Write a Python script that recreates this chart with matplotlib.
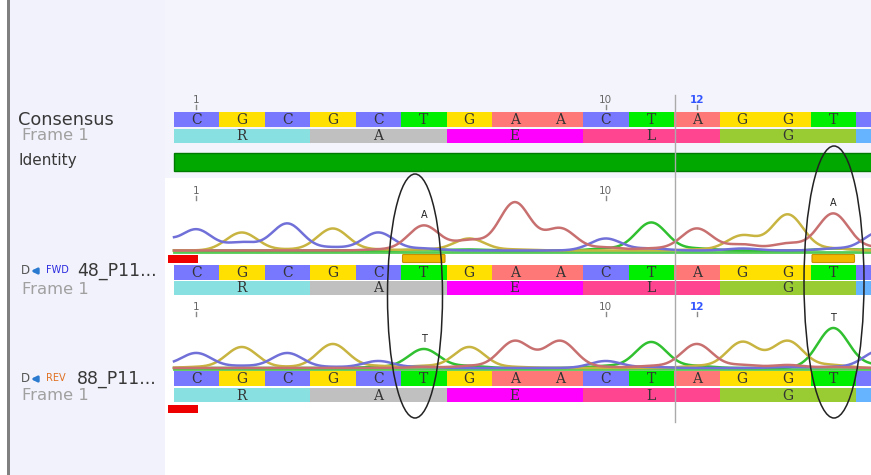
import numpy as np
import matplotlib.pyplot as plt
from matplotlib.patches import Ellipse, Rectangle, FancyBboxPatch

# Secuencia consenso y traduccion (marco 1)
bases = list("CGCGCTGAACTAGGTC")
aa_labels = ['R', 'A', 'E', 'L', 'G', '']
aa_colors = ['#88e0e0', '#c0c0c0', '#ff00ff', '#ff4590', '#99cc33', '#66b3ff']

base_colors = {'C': '#7878ff', 'G': '#ffe000', 'T': '#00ee00', 'A': '#ff7878'}
trace_colors = {'A': '#c87070', 'C': '#7070d8', 'G': '#c8b440', 'T': '#30c030'}

# Alturas de los picos (px) por posicion; el indice 0 es la posicion previa a la base 1
fwd_A = [0, 0, 0, 0, 0, 1, 25, 10, 48, 22, 3, 2, 22, 6, 7, 37, 3]
fwd_C = [18, 21, 8, 27, 3, 18, 2, 0, 0, 0, 12, 2, 0, 2, 0, 2, 18]
fwd_G = [0, 0, 18, 1, 22, 1, 1, 12, 1, 0, 0, 0, 1, 15, 36, 2, 0]
fwd_T = [0, 0, 0, 0, 0, 0, 1, 1, 0, 0, 2, 28, 2, 0, 0, 2, 1]

rev_A = [0, 0, 0, 0, 0, 0, 1, 2, 27, 27, 1, 2, 24, 3, 3, 1, 0]
rev_C = [4, 15, 2, 15, 1, 7, 1, 0, 0, 0, 7, 1, 0, 0, 1, 1, 17]
rev_G = [0, 1, 21, 1, 24, 2, 2, 21, 1, 0, 0, 0, 2, 26, 27, 3, 0]
rev_T = [0, 0, 0, 0, 0, 1, 19, 2, 0, 0, 2, 26, 2, 0, 0, 40, 3]

# Llamadas de base sobre los picos ambiguos: (columna, letra)
fwd_calls = [(6, 'A'), (15, 'A')]
rev_calls = [(6, 'T'), (15, 'T')]

# Geometria de la vista
x0 = 173.5
w = 45.5
right = 871
centers = x0 + w * (np.arange(len(bases)) + 0.5)
pos = x0 + w * (np.arange(len(bases) + 1) - 0.5)
seq_font = ['DejaVu Serif']

fig = plt.figure(figsize=(8.71, 4.75), dpi=100)
ax = fig.add_axes([0, 0, 1, 1])
ax.set_xlim(0, right)
ax.set_ylim(475, 0)
ax.axis('off')

# Fondos
ax.add_patch(Rectangle((0, 0), right, 475, facecolor='white', edgecolor='none'))
ax.add_patch(Rectangle((165, 0), 706, 178, facecolor='#f4f4fc', edgecolor='none'))
ax.add_patch(Rectangle((10, 0), 155, 475, facecolor='#f2f2fc', edgecolor='none'))
ax.add_patch(Rectangle((7, 0), 3, 475, facecolor='#808080', edgecolor='none'))


def base_row(y, h):
    cols = [base_colors[b] for b in bases]
    ax.bar(centers, h, bottom=y, width=w, color=cols, linewidth=0)
    for xc, b in zip(centers, bases):
        if xc > right - 10:
            continue
        ax.text(xc, y + h / 2 + 0.5, b, fontsize=10, family=seq_font,
                ha='center', va='center', color='#333333')


def frame_row(y, h):
    for k, (lab, col) in enumerate(zip(aa_labels, aa_colors)):
        ax.bar(x0 + w * (3 * k + 1.5), h, bottom=y, width=3 * w, color=col, linewidth=0)
        if lab:
            ax.text(centers[3 * k + 1], y + h / 2 + 0.5, lab, fontsize=10, family=seq_font,
                    ha='center', va='center', color='#333333')


def ruler(y, marks):
    for col, lab, color in marks:
        xc = centers[col - 1]
        ax.text(xc, y, lab, fontsize=7.5, ha='center', va='center', color=color,
                fontweight='bold' if color != '#666666' else 'normal')
        ax.plot([xc, xc], [y + 5, y + 9], color='#888888', lw=1)


def chromatogram(base_y, traces, calls):
    xs = np.linspace(174, right, 900)
    ax.plot([174, right], [base_y, base_y], color='#55cc55', lw=2, zorder=3)
    for name in ['T', 'G', 'C', 'A']:
        hts = np.array(traces[name], dtype=float)
        ys = np.zeros_like(xs)
        for p, hh in zip(pos, hts):
            ys += hh * np.exp(-(xs - p) ** 2 / (2 * 15.5 ** 2))
        ax.plot(xs, base_y - 1 - ys, color=trace_colors[name], lw=1.8, zorder=4)
    for col, lab in calls:
        top = max(traces[k][col] for k in traces)
        ax.text(centers[col - 1], base_y - top - 11, lab, fontsize=7,
                ha='center', va='center', color='#222222', zorder=5)


# Consenso
ruler(100, [(1, '1', '#666666'), (10, '10', '#666666'), (12, '12', '#3355ff')])
base_row(112, 15)
frame_row(129, 14)
ax.add_patch(Rectangle((173.5, 153), 700, 18, facecolor='#00a800',
                       edgecolor='#007a00', lw=1))

# Lectura directa
ruler(191, [(1, '1', '#666666'), (10, '10', '#666666')])
chromatogram(251.5, {'A': fwd_A, 'C': fwd_C, 'G': fwd_G, 'T': fwd_T}, fwd_calls)
for col, _ in fwd_calls:
    ax.add_patch(FancyBboxPatch((x0 + w * (col - 1) + 2.5, 255.5), w - 5, 6,
                                boxstyle='round,pad=1', facecolor='#f2b800',
                                edgecolor='#c89000', lw=0.8, zorder=5))
ax.add_patch(Rectangle((168, 255), 30, 8, facecolor='#ee0000', edgecolor='none'))
base_row(265, 15)
frame_row(281, 14)

# Lectura reversa
ruler(307, [(1, '1', '#666666'), (10, '10', '#666666'), (12, '12', '#3355ff')])
chromatogram(369, {'A': rev_A, 'C': rev_C, 'G': rev_G, 'T': rev_T}, rev_calls)
base_row(371, 15)
frame_row(388, 14)
ax.add_patch(Rectangle((168, 405), 30, 8, facecolor='#ee0000', edgecolor='none'))

# Linea del cursor
ax.plot([675, 675], [95, 422], color='#aaaaaa', lw=1, zorder=6)

# Marcas de las posiciones con discrepancia
ax.add_patch(Ellipse((415, 296), 55, 244, fill=False, edgecolor='#222222', lw=1.1, zorder=7))
ax.add_patch(Ellipse((834, 282), 60, 272, fill=False, edgecolor='#222222', lw=1.1, zorder=7))

# Etiquetas del panel izquierdo
ax.text(18, 120, 'Consensus', fontsize=12.8, color='#383838', va='center')
ax.text(22, 136, 'Frame 1', fontsize=11.8, color='#a0a0a0', va='center')
ax.text(18, 161, 'Identity', fontsize=11, color='#383838', va='center')

for yy, tag, tag_col, name, fy in [(271, 'FWD', '#2a2ae0', '48_P11...', 289),
                                   (379, 'REV', '#e07020', '88_P11...', 395)]:
    ax.text(21, yy, 'D', fontsize=8.5, color='#555555', va='center')
    ax.annotate('', xy=(28, yy), xytext=(40, yy),
                arrowprops=dict(arrowstyle='-|>', color='#2a7ad0', lw=2, mutation_scale=8))
    ax.text(46, yy - 1, tag, fontsize=7, color=tag_col, va='center')
    ax.text(77, yy, name, fontsize=12.5, color='#383838', va='center')
    ax.text(22, fy, 'Frame 1', fontsize=11.8, color='#a0a0a0', va='center')

fig.savefig('out.png', dpi=100)
